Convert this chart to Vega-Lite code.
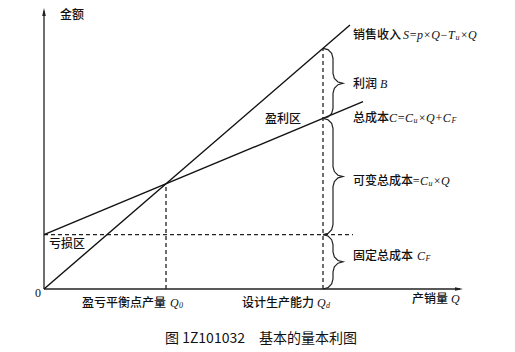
{
  "$schema": "https://vega.github.io/schema/vega-lite/v6.json",
  "width": 420,
  "height": 281,
  "autosize": {"type": "none"},
  "padding": {"left": 44, "top": 8, "right": 51, "bottom": 63},
  "background": "white",
  "config": {"view": {"stroke": null}},
  "datasets": {
    "curves": [
      {"series": "销售收入", "Q": 0, "amount": 0},
      {"series": "销售收入", "Q": 306, "amount": 264},
      {"series": "总成本", "Q": 0, "amount": 54.3},
      {"series": "总成本", "Q": 319, "amount": 187.3}
    ],
    "axes": [
      {"Q": 0, "amount": 0, "Q2": 416, "amount2": 0},
      {"Q": 0, "amount": 0, "Q2": 0, "amount2": 278}
    ],
    "arrows": [
      {"Q": 415, "amount": 0, "dir": "right"},
      {"Q": 0, "amount": 277, "dir": "up"}
    ],
    "guides": [
      {"Q": 0, "amount": 54.3, "Q2": 309, "amount2": 54.3},
      {"Q": 122, "amount": 0, "Q2": 122, "amount2": 105.2},
      {"Q": 279, "amount": 0, "Q2": 279, "amount2": 240.7}
    ],
    "braces": [
      {"brace": "利润", "i": 1, "Q": 279, "amount": 240.7},
      {"brace": "利润", "i": 2, "Q": 284, "amount": 239.36},
      {"brace": "利润", "i": 3, "Q": 287.66, "amount": 235.7},
      {"brace": "利润", "i": 4, "Q": 289, "amount": 230.7},
      {"brace": "利润", "i": 5, "Q": 289, "amount": 215.65},
      {"brace": "利润", "i": 6, "Q": 290.34, "amount": 210.65},
      {"brace": "利润", "i": 7, "Q": 294, "amount": 206.99},
      {"brace": "利润", "i": 8, "Q": 299, "amount": 205.65},
      {"brace": "利润", "i": 9, "Q": 294, "amount": 204.31},
      {"brace": "利润", "i": 10, "Q": 290.34, "amount": 200.65},
      {"brace": "利润", "i": 11, "Q": 289, "amount": 195.65},
      {"brace": "利润", "i": 12, "Q": 289, "amount": 180.6},
      {"brace": "利润", "i": 13, "Q": 287.66, "amount": 175.6},
      {"brace": "利润", "i": 14, "Q": 284, "amount": 171.94},
      {"brace": "利润", "i": 15, "Q": 279, "amount": 170.6},
      {"brace": "可变", "i": 1, "Q": 279, "amount": 170.6},
      {"brace": "可变", "i": 2, "Q": 284, "amount": 169.26},
      {"brace": "可变", "i": 3, "Q": 287.66, "amount": 165.6},
      {"brace": "可变", "i": 4, "Q": 289, "amount": 160.6},
      {"brace": "可变", "i": 5, "Q": 289, "amount": 122.45},
      {"brace": "可变", "i": 6, "Q": 290.34, "amount": 117.45},
      {"brace": "可变", "i": 7, "Q": 294, "amount": 113.79},
      {"brace": "可变", "i": 8, "Q": 299, "amount": 112.45},
      {"brace": "可变", "i": 9, "Q": 294, "amount": 111.11},
      {"brace": "可变", "i": 10, "Q": 290.34, "amount": 107.45},
      {"brace": "可变", "i": 11, "Q": 289, "amount": 102.45},
      {"brace": "可变", "i": 12, "Q": 289, "amount": 64.3},
      {"brace": "可变", "i": 13, "Q": 287.66, "amount": 59.3},
      {"brace": "可变", "i": 14, "Q": 284, "amount": 55.64},
      {"brace": "可变", "i": 15, "Q": 279, "amount": 54.3},
      {"brace": "固定", "i": 1, "Q": 279, "amount": 54.3},
      {"brace": "固定", "i": 2, "Q": 284, "amount": 52.96},
      {"brace": "固定", "i": 3, "Q": 287.66, "amount": 49.3},
      {"brace": "固定", "i": 4, "Q": 289, "amount": 44.3},
      {"brace": "固定", "i": 5, "Q": 289, "amount": 37.15},
      {"brace": "固定", "i": 6, "Q": 290.34, "amount": 32.15},
      {"brace": "固定", "i": 7, "Q": 294, "amount": 28.49},
      {"brace": "固定", "i": 8, "Q": 299, "amount": 27.15},
      {"brace": "固定", "i": 9, "Q": 294, "amount": 25.81},
      {"brace": "固定", "i": 10, "Q": 290.34, "amount": 22.15},
      {"brace": "固定", "i": 11, "Q": 289, "amount": 17.15},
      {"brace": "固定", "i": 12, "Q": 289, "amount": 10},
      {"brace": "固定", "i": 13, "Q": 287.66, "amount": 5},
      {"brace": "固定", "i": 14, "Q": 284, "amount": 1.34},
      {"brace": "固定", "i": 15, "Q": 279, "amount": 0}
    ],
    "labels": [
      {"kind": "cn", "Q": 16, "amount": 274, "text": "金额"},
      {"kind": "cn", "Q": 309, "amount": 254, "text": "销售收入"},
      {"kind": "cn", "Q": 309, "amount": 205, "text": "利润"},
      {"kind": "cn", "Q": 309, "amount": 171, "text": "总成本"},
      {"kind": "cn", "Q": 221, "amount": 170, "text": "盈利区"},
      {"kind": "cn", "Q": 309, "amount": 108, "text": "可变总成本"},
      {"kind": "cn", "Q": 309, "amount": 33, "text": "固定总成本"},
      {"kind": "cn", "Q": 5, "amount": 45, "text": "亏损区"},
      {"kind": "cn", "Q": 38, "amount": -14, "text": "盈亏平衡点产量"},
      {"kind": "cn", "Q": 198, "amount": -14, "text": "设计生产能力"},
      {"kind": "cn", "Q": 368, "amount": -10, "text": "产销量"},
      {"kind": "math", "Q": 359, "amount": 254, "text": "S=p×Q−T"},
      {"kind": "sub", "Q": 411.5, "amount": 254, "text": "u"},
      {"kind": "math", "Q": 416, "amount": 254, "text": "×Q"},
      {"kind": "math", "Q": 336, "amount": 205, "text": "B"},
      {"kind": "math", "Q": 345, "amount": 171, "text": "C=C"},
      {"kind": "sub", "Q": 369.5, "amount": 171, "text": "u"},
      {"kind": "math", "Q": 374, "amount": 171, "text": "×Q+C"},
      {"kind": "sub", "Q": 407.5, "amount": 171, "text": "F"},
      {"kind": "math", "Q": 368, "amount": 108, "text": "=C"},
      {"kind": "sub", "Q": 384.5, "amount": 108, "text": "u"},
      {"kind": "math", "Q": 389, "amount": 108, "text": "×Q"},
      {"kind": "math", "Q": 373, "amount": 33, "text": "C"},
      {"kind": "sub", "Q": 381.5, "amount": 33, "text": "F"},
      {"kind": "math", "Q": 126, "amount": -14, "text": "Q"},
      {"kind": "sub", "Q": 135, "amount": -14, "text": "0"},
      {"kind": "math", "Q": 273, "amount": -14, "text": "Q"},
      {"kind": "sub", "Q": 282, "amount": -14, "text": "d"},
      {"kind": "math", "Q": 407, "amount": -10, "text": "Q"},
      {"kind": "origin", "Q": -3, "amount": -4, "text": "0"},
      {"kind": "caption", "Q": 121, "amount": -50, "text": "图 1Z101032　基本的量本利图"}
    ]
  },
  "encoding": {
    "x": {"field": "Q", "type": "quantitative", "scale": {"domain": [0, 420], "nice": false, "zero": false}, "axis": null},
    "y": {"field": "amount", "type": "quantitative", "scale": {"domain": [0, 281], "nice": false, "zero": false}, "axis": null}
  },
  "layer": [
    {
      "data": {"name": "axes"},
      "mark": {"type": "rule", "color": "#222", "strokeWidth": 1.3},
      "encoding": {"x2": {"field": "Q2"}, "y2": {"field": "amount2"}}
    },
    {
      "data": {"name": "arrows"},
      "transform": [{"filter": "datum.dir === 'right'"}],
      "mark": {"type": "point", "shape": "M1,0L-1,-0.45L-1,0.45Z", "size": 64, "filled": true, "color": "#222", "opacity": 1}
    },
    {
      "data": {"name": "arrows"},
      "transform": [{"filter": "datum.dir === 'up'"}],
      "mark": {"type": "point", "shape": "M0,-1L-0.45,1L0.45,1Z", "size": 64, "filled": true, "color": "#222", "opacity": 1}
    },
    {
      "data": {"name": "guides"},
      "mark": {"type": "rule", "color": "#222", "strokeWidth": 1.3, "strokeDash": [4, 3]},
      "encoding": {"x2": {"field": "Q2"}, "y2": {"field": "amount2"}}
    },
    {
      "data": {"name": "curves"},
      "mark": {"type": "line", "color": "#111", "strokeWidth": 1.4},
      "encoding": {"detail": {"field": "series"}}
    },
    {
      "data": {"name": "braces"},
      "mark": {"type": "line", "color": "#222", "strokeWidth": 1.2},
      "encoding": {"detail": {"field": "brace"}, "order": {"field": "i", "type": "quantitative"}}
    },
    {
      "data": {"name": "labels"},
      "transform": [{"filter": "datum.kind === 'cn'"}],
      "mark": {"type": "text", "align": "left", "baseline": "middle", "font": "Noto Sans CJK SC", "fontSize": 12, "fontWeight": 500, "color": "#111"},
      "encoding": {"text": {"field": "text"}}
    },
    {
      "data": {"name": "labels"},
      "transform": [{"filter": "datum.kind === 'math'"}],
      "mark": {"type": "text", "align": "left", "baseline": "middle", "font": "Liberation Serif", "fontStyle": "italic", "fontSize": 12, "color": "#111"},
      "encoding": {"text": {"field": "text"}}
    },
    {
      "data": {"name": "labels"},
      "transform": [{"filter": "datum.kind === 'sub'"}],
      "mark": {"type": "text", "align": "left", "baseline": "middle", "dy": 3, "font": "Liberation Serif", "fontStyle": "italic", "fontSize": 8, "color": "#111"},
      "encoding": {"text": {"field": "text"}}
    },
    {
      "data": {"name": "labels"},
      "transform": [{"filter": "datum.kind === 'origin'"}],
      "mark": {"type": "text", "align": "right", "baseline": "middle", "font": "Liberation Serif", "fontSize": 12, "color": "#111"},
      "encoding": {"text": {"field": "text"}}
    },
    {
      "data": {"name": "labels"},
      "transform": [{"filter": "datum.kind === 'caption'"}],
      "mark": {"type": "text", "align": "left", "baseline": "middle", "font": "Noto Sans CJK SC", "fontSize": 14, "color": "#111"},
      "encoding": {"text": {"field": "text"}}
    }
  ]
}
